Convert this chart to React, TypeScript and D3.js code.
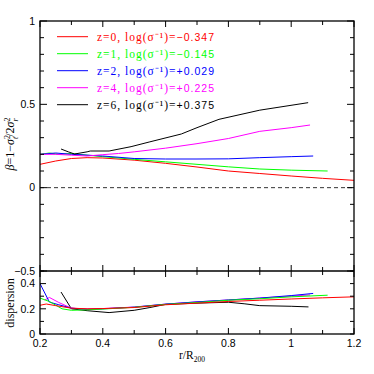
import React from "react";
import * as d3 from "d3";

const COLORS = ["#ff0000", "#00ff00", "#0000ff", "#ff00ff", "#000000"];
const LEG_PREFIX = ["z=0, log(σ⁻¹)=", "z=1, log(σ⁻¹)=", "z=2, log(σ⁻¹)=", "z=4, log(σ⁻¹)=", "z=6, log(σ⁻¹)="];
const LEG_VALUE = ["−0.347", "−0.145", "+0.029", "+0.225", "+0.375"];

// beta profiles
const betaX0 = [0.2, 0.25, 0.3, 0.35, 0.4, 0.5, 0.6, 0.7, 0.8, 0.9, 1.0, 1.1, 1.2];
const betaY0 = [0.14, 0.16, 0.175, 0.18, 0.178, 0.165, 0.146, 0.124, 0.1, 0.085, 0.07, 0.056, 0.044];
const betaX1 = [0.2, 0.23, 0.26, 0.3, 0.35, 0.4, 0.5, 0.6, 0.7, 0.8, 0.9, 1.0, 1.116];
const betaY1 = [0.2, 0.208, 0.2, 0.205, 0.195, 0.186, 0.17, 0.155, 0.14, 0.125, 0.112, 0.105, 0.1];
const betaX2 = [0.2, 0.25, 0.3, 0.35, 0.4, 0.5, 0.6, 0.7, 0.8, 0.9, 1.0, 1.07];
const betaY2 = [0.2, 0.208, 0.2, 0.195, 0.19, 0.175, 0.172, 0.172, 0.173, 0.18, 0.186, 0.19];
const betaX3 = [0.2, 0.25, 0.3, 0.35, 0.4, 0.45, 0.5, 0.6, 0.7, 0.8, 0.9, 1.0, 1.06];
const betaY3 = [0.2, 0.2, 0.195, 0.19, 0.198, 0.205, 0.215, 0.237, 0.264, 0.295, 0.338, 0.36, 0.376];
const betaX4 = [0.267, 0.29, 0.31, 0.35, 0.36, 0.42, 0.49, 0.55, 0.65, 0.7, 0.77, 0.9, 1.054];
const betaY4 = [0.232, 0.215, 0.202, 0.215, 0.22, 0.22, 0.246, 0.275, 0.322, 0.36, 0.41, 0.465, 0.51];

// dispersion profiles
const dispX0 = [0.2, 0.22, 0.25, 0.3, 0.35, 0.4, 0.5, 0.6, 0.7, 0.8, 0.9, 1.0, 1.1, 1.2];
const dispY0 = [0.228, 0.238, 0.225, 0.205, 0.2, 0.202, 0.21, 0.232, 0.245, 0.258, 0.268, 0.278, 0.287, 0.295];
const dispX1 = [0.2, 0.23, 0.27, 0.3, 0.35, 0.4, 0.5, 0.6, 0.7, 0.8, 0.9, 1.0, 1.116];
const dispY1 = [0.285, 0.258, 0.2, 0.188, 0.192, 0.198, 0.212, 0.235, 0.25, 0.268, 0.28, 0.295, 0.308];
const dispX2 = [0.2, 0.23, 0.26, 0.3, 0.35, 0.4, 0.5, 0.6, 0.7, 0.8, 0.9, 1.0, 1.07];
const dispY2 = [0.4, 0.253, 0.232, 0.205, 0.195, 0.2, 0.213, 0.237, 0.255, 0.27, 0.285, 0.305, 0.322];
const dispX3 = [0.215, 0.23, 0.26, 0.3, 0.35, 0.4, 0.5, 0.6, 0.7, 0.8, 0.9, 1.0, 1.06];
const dispY3 = [0.27, 0.29, 0.25, 0.205, 0.198, 0.202, 0.214, 0.237, 0.255, 0.27, 0.285, 0.3, 0.31];
const dispX4 = [0.267, 0.3, 0.35, 0.42, 0.5, 0.55, 0.6, 0.7, 0.8, 0.85, 0.9, 1.0, 1.055];
const dispY4 = [0.333, 0.2, 0.185, 0.17, 0.188, 0.21, 0.235, 0.245, 0.252, 0.24, 0.225, 0.22, 0.215];

const BETA = [[betaX0, betaY0], [betaX1, betaY1], [betaX2, betaY2], [betaX3, betaY3], [betaX4, betaY4]];
const DISP = [[dispX0, dispY0], [dispX1, dispY1], [dispX2, dispY2], [dispX3, dispY3], [dispX4, dispY4]];

const X_TICKS = [0.2, 0.4, 0.6, 0.8, 1.0, 1.2];
const X_TICK_LABELS = ["0.2", "0.4", "0.6", "0.8", "1", "1.2"];
const BETA_TICKS = [1, 0.5, 0, -0.5];
const BETA_TICK_LABELS = ["1", "0.5", "0", "−0.5"];
const DISP_TICKS = [0.4, 0.2, 0];
const DISP_TICK_LABELS = ["0.4", "0.2", "0"];

const L = 40, R = 354, T = 21, M = 271, B = 334;

export default function App() {
  const x = d3.scaleLinear().domain([0.2, 1.2]).range([L, R]);
  const yb = d3.scaleLinear().domain([-0.5, 1]).range([M, T]);
  const yd = d3.scaleLinear().domain([0, 0.5]).range([B, M]);
  const lineB = d3.line<number[]>().x(d => x(d[0])).y(d => yb(d[1]));
  const lineD = d3.line<number[]>().x(d => x(d[0])).y(d => yd(d[1]));
  const zip = (xs: number[], ys: number[]) => xs.map((v, i) => [v, ys[i]]);

  const xMinor = d3.range(0.2, 1.2001, 0.1);
  const bMinor = d3.range(-0.5, 1.0001, 0.1);
  const dMinor = d3.range(0, 0.5001, 0.1);
  const isMajor = (v: number, step: number) => Math.abs(v / step - Math.round(v / step)) < 1e-6;

  const ticks: any[] = [];
  xMinor.forEach((v, i) => {
    const len = isMajor(v, 0.2) ? 6 : 4;
    const px = x(v);
    ticks.push(<line key={"xt" + i} x1={px} x2={px} y1={T} y2={T + len} />);
    ticks.push(<line key={"xm1" + i} x1={px} x2={px} y1={M} y2={M - len} />);
    ticks.push(<line key={"xm2" + i} x1={px} x2={px} y1={M} y2={M + len} />);
    ticks.push(<line key={"xb" + i} x1={px} x2={px} y1={B} y2={B - len} />);
  });
  bMinor.forEach((v, i) => {
    const len = isMajor(v, 0.5) ? 7 : 4;
    const py = yb(v);
    ticks.push(<line key={"bl" + i} x1={L} x2={L + len} y1={py} y2={py} />);
    ticks.push(<line key={"br" + i} x1={R} x2={R - len} y1={py} y2={py} />);
  });
  dMinor.forEach((v, i) => {
    const len = isMajor(v, 0.2) ? 6 : 4;
    const py = yd(v);
    ticks.push(<line key={"dl" + i} x1={L} x2={L + len} y1={py} y2={py} />);
    ticks.push(<line key={"dr" + i} x1={R} x2={R - 4} y1={py} y2={py} />);
  });

  const sans = "'Liberation Sans', Arial, sans-serif";
  const serif = "'Liberation Serif', 'Times New Roman', serif";

  return (
    <svg width={374} height={374} style={{ position: "absolute", left: 0, top: 0, background: "#fff" }}>
      <defs>
        <clipPath id="cu"><rect x={L} y={T} width={R - L} height={M - T} /></clipPath>
        <clipPath id="cl"><rect x={L} y={M} width={R - L} height={B - M} /></clipPath>
      </defs>
      <rect x={0} y={0} width={374} height={374} fill="#fff" />
      <line x1={L} x2={R} y1={yb(0)} y2={yb(0)} stroke="#333" strokeWidth={1} strokeDasharray="4,3" />
      <g clipPath="url(#cu)" fill="none" strokeWidth={1}>
        {BETA.map((s, i) => (
          <path key={i} d={lineB(zip(s[0], s[1])) || ""} stroke={COLORS[i]} />
        ))}
      </g>
      <g clipPath="url(#cl)" fill="none" strokeWidth={1}>
        {[4, 3, 2, 1, 0].map(i => (
          <path key={i} d={lineD(zip(DISP[i][0], DISP[i][1])) || ""} stroke={COLORS[i]} />
        ))}
      </g>
      {/* legend */}
      {COLORS.map((c, i) => {
        const y = 36.7 + i * 17;
        return (
          <g key={"lg" + i}>
            <line x1={57} x2={88} y1={y} y2={y} stroke={c} strokeWidth={1} />
            <text x={97} y={y + 4} fill={c} fontSize={11.5} fontFamily={serif} textLength={117} lengthAdjust="spacing">
              <tspan>{LEG_PREFIX[i]}</tspan>
              <tspan fontFamily={sans} fontSize={10.5}>{LEG_VALUE[i]}</tspan>
            </text>
          </g>
        );
      })}
      {/* axes frame */}
      <g stroke="#000" strokeWidth={1} fill="none">{ticks}</g>
      <rect x={L} y={T} width={R - L} height={B - T} fill="none" stroke="#000" strokeWidth={1.3} />
      <line x1={L} x2={R} y1={M} y2={M} stroke="#000" strokeWidth={1.3} />
      {/* tick labels */}
      <g fontFamily={sans} fontSize={10.5} fill="#000">
        {BETA_TICKS.map((v, i) => (
          <text key={"btl" + i} x={35} y={yb(v) + 3.8} textAnchor="end">{BETA_TICK_LABELS[i]}</text>
        ))}
        {DISP_TICKS.map((v, i) => (
          <text key={"dtl" + i} x={35} y={yd(v) + 3.8} textAnchor="end">{DISP_TICK_LABELS[i]}</text>
        ))}
        {X_TICKS.map((v, i) => (
          <text key={"xtl" + i} x={x(v)} y={347} textAnchor="middle">{X_TICK_LABELS[i]}</text>
        ))}
      </g>
      {/* axis titles */}
      <text x={192} y={359} fontFamily={serif} fontSize={11.5} textAnchor="middle">
        r/R<tspan fontSize={7.5} dy={2.5}>200</tspan>
      </text>
      <text transform="translate(14,303) rotate(-90)" fontFamily={serif} fontSize={12} textAnchor="middle">dispersion</text>
      <text transform="translate(14,144) rotate(-90)" fontFamily={serif} fontSize={12} textAnchor="middle">
        <tspan fontStyle="italic">β</tspan>=1−<tspan fontStyle="italic">σ</tspan>
        <tspan fontSize={8} dy={-4.5}>2</tspan><tspan fontSize={8} dx={-4} dy={8} fontStyle="italic">t</tspan>
        <tspan dy={-3.5}>/2</tspan><tspan fontStyle="italic">σ</tspan>
        <tspan fontSize={8} dy={-4.5}>2</tspan><tspan fontSize={8} dx={-4} dy={8} fontStyle="italic">r</tspan>
      </text>
    </svg>
  );
}
